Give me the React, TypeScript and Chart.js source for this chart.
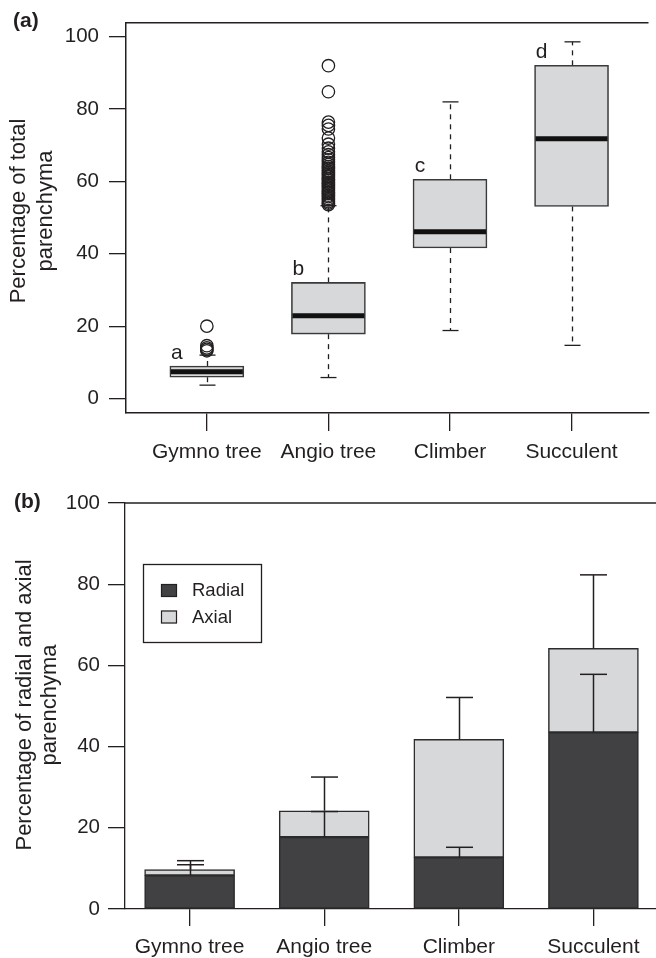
import React, { useEffect, useRef } from "react";
import { Chart, registerables } from "chart.js";

Chart.register(...registerables);

// ---------- shared ----------
const categories = ["Gymno tree", "Angio tree", "Climber", "Succulent"];
const positions = [1, 2, 3, 4];

// ---------- panel (a): boxplot ----------
const lowerWhisker = [3.7, 5.8, 18.8, 14.7];
const quartile1 = [5.9, 17.8, 41.6, 53.1];
const medians = [7.4, 22.9, 46.1, 71.8];
const quartile3 = [9.0, 32.1, 60.6, 92.1];
const upperWhisker = [12.0, 53.3, 82.0, 98.6];
const groupLetters = ["a", "b", "c", "d"];
const gymnoOutliers = [13.2, 13.6, 14.0, 14.6, 20.0];
const angioOutliers = [
  53.6, 54.0, 54.4, 54.9, 55.3, 55.8, 56.2, 56.7, 57.1, 57.6, 58.0, 58.5, 58.9,
  59.4, 59.8, 60.3, 60.7, 61.2, 61.6, 62.1, 62.5, 63.0, 63.6, 64.1, 64.7, 65.3,
  66.0, 66.6, 67.4, 68.2, 69.2, 70.3, 72.0, 74.5, 75.5, 76.4, 84.8, 92.0,
];
const climberOutliers: number[] = [];
const succulentOutliers: number[] = [];
const yTicksA = [0, 20, 40, 60, 80, 100];

// ---------- panel (b): stacked bars ----------
const radialMean = [8.3, 17.7, 12.7, 43.5];
const axialMean = [1.4, 6.5, 29.1, 20.7];
const radialError = [2.6, 6.3, 2.5, 14.3];
const totalError = [2.2, 8.3, 10.3, 18.1];
const seriesLabels = ["Radial", "Axial"];
const yTicksB = [0, 20, 40, 60, 80, 100];

// ---------- style ----------
const INK = "#231f20";
const LIGHT = "#d7d8da";
const DARK = "#414143";
const FONT = "'Liberation Sans', Arial, Helvetica, sans-serif";

Chart.defaults.font.family = FONT;
Chart.defaults.color = INK;

function line(ctx: CanvasRenderingContext2D, x1: number, y1: number, x2: number, y2: number) {
  ctx.beginPath();
  ctx.moveTo(x1, y1);
  ctx.lineTo(x2, y2);
  ctx.stroke();
}

function drawYTitle(ctx: CanvasRenderingContext2D, lines: string[], baselines: number[], cy: number) {
  ctx.save();
  ctx.fillStyle = INK;
  ctx.font = `22px ${FONT}`;
  ctx.textAlign = "center";
  ctx.textBaseline = "alphabetic";
  lines.forEach((t, i) => {
    ctx.save();
    ctx.translate(baselines[i], cy);
    ctx.rotate(-Math.PI / 2);
    ctx.fillText(t, 0, 0);
    ctx.restore();
  });
  ctx.restore();
}

const BOX_W = 74;
const CAP_A = 16;

const boxPlugin = {
  id: "boxExtras",
  beforeDatasetsDraw(chart: any) {
    const { ctx, scales } = chart;
    const x = scales.x;
    const y = scales.y;
    ctx.save();
    ctx.strokeStyle = INK;
    ctx.lineWidth = 1.3;
    positions.forEach((p, i) => {
      const cx = Math.round(x.getPixelForValue(p)) + 0.5;
      const yU = y.getPixelForValue(upperWhisker[i]);
      const yL = y.getPixelForValue(lowerWhisker[i]);
      ctx.setLineDash([5, 5]);
      line(ctx, cx, y.getPixelForValue(quartile3[i]), cx, yU);
      line(ctx, cx, y.getPixelForValue(quartile1[i]), cx, yL);
      ctx.setLineDash([]);
      line(ctx, cx - CAP_A / 2, yU, cx + CAP_A / 2, yU);
      line(ctx, cx - CAP_A / 2, yL, cx + CAP_A / 2, yL);
    });
    ctx.restore();
  },
  afterDatasetsDraw(chart: any) {
    const { ctx, scales } = chart;
    const x = scales.x;
    const y = scales.y;
    ctx.save();
    positions.forEach((p, i) => {
      const cx = x.getPixelForValue(p);
      const ym = y.getPixelForValue(medians[i]);
      ctx.strokeStyle = "#111";
      ctx.lineWidth = 5;
      line(ctx, cx - BOX_W / 2 + 1, ym, cx + BOX_W / 2 - 1, ym);
      ctx.fillStyle = INK;
      ctx.font = `21px ${FONT}`;
      ctx.textAlign = "center";
      ctx.textBaseline = "alphabetic";
      ctx.fillText(groupLetters[i], cx - BOX_W / 2 + 7, y.getPixelForValue(quartile3[i]) - 7);
    });
    ctx.restore();
  },
  afterDraw(chart: any) {
    const { ctx, chartArea } = chart;
    ctx.save();
    ctx.strokeStyle = INK;
    ctx.lineWidth = 1.5;
    line(ctx, chartArea.left, chartArea.top + 0.5, chartArea.right, chartArea.top + 0.5);
    ctx.fillStyle = INK;
    ctx.font = `bold 21px ${FONT}`;
    ctx.textAlign = "left";
    ctx.textBaseline = "middle";
    ctx.fillText("(a)", 13, 21);
    drawYTitle(ctx, ["Percentage of total", "parenchyma"], [25, 52], 211);
    ctx.restore();
  },
};

const CAP_B = 27;

const barPlugin = {
  id: "barExtras",
  afterDatasetsDraw(chart: any) {
    const { ctx, scales } = chart;
    const x = scales.x;
    const y = scales.y;
    ctx.save();
    ctx.strokeStyle = INK;
    ctx.lineWidth = 1.5;
    positions.forEach((p, i) => {
      const cx = Math.round(x.getPixelForValue(p)) + 0.5;
      const r0 = y.getPixelForValue(radialMean[i]);
      const r1 = y.getPixelForValue(radialMean[i] + radialError[i]);
      const total = radialMean[i] + axialMean[i];
      const t0 = y.getPixelForValue(total);
      const t1 = y.getPixelForValue(total + totalError[i]);
      line(ctx, cx, r0, cx, r1);
      line(ctx, cx - CAP_B / 2, r1, cx + CAP_B / 2, r1);
      line(ctx, cx, t0, cx, t1);
      line(ctx, cx - CAP_B / 2, t1, cx + CAP_B / 2, t1);
    });
    ctx.restore();
  },
  afterDraw(chart: any) {
    const { ctx, chartArea } = chart;
    ctx.save();
    ctx.strokeStyle = INK;
    ctx.lineWidth = 1.3;
    line(ctx, chartArea.left, chartArea.top, chartArea.right, chartArea.top);
    // legend
    const lx = chartArea.left + 18;
    const ly = chartArea.top + 61;
    ctx.lineWidth = 1.3;
    ctx.strokeRect(lx + 0.5, ly + 0.5, 118, 78);
    ctx.font = `18.5px ${FONT}`;
    ctx.textAlign = "left";
    ctx.textBaseline = "middle";
    chart.data.datasets.forEach((ds: any, i: number) => {
      const sy = ly + 20 + i * 26.5;
      ctx.fillStyle = ds.backgroundColor;
      ctx.fillRect(lx + 18, sy, 16, 13);
      ctx.lineWidth = 1.2;
      ctx.strokeRect(lx + 18.5, sy + 0.5, 15, 12);
      ctx.fillStyle = INK;
      ctx.fillText(ds.label, lx + 49, sy + 7);
    });
    ctx.font = `bold 21px ${FONT}`;
    ctx.fillText("(b)", 14, 32);
    drawYTitle(ctx, ["Percentage of radial and axial", "parenchyma"], [31, 56], 235);
    ctx.restore();
  },
};

function useChart(ref: React.RefObject<HTMLCanvasElement | null>, make: (c: HTMLCanvasElement) => Chart) {
  useEffect(() => {
    if (!ref.current) return;
    const chart = make(ref.current);
    return () => chart.destroy();
  }, []);
}

const tickFontY = { size: 20.5, family: FONT };
const tickFontX = { size: 21, family: FONT };

function makeBoxChart(canvas: HTMLCanvasElement) {
  const outlierPoints = [
    ...gymnoOutliers.map((v) => ({ x: positions[0], y: v })),
    ...angioOutliers.map((v) => ({ x: positions[1], y: v })),
    ...climberOutliers.map((v) => ({ x: positions[2], y: v })),
    ...succulentOutliers.map((v) => ({ x: positions[3], y: v })),
  ];
  return new Chart(canvas, {
    type: "bar",
    data: {
      datasets: [
        {
          type: "bar",
          label: "Box",
          data: positions.map((p, i) => ({ x: p, y: [quartile1[i], quartile3[i]] })) as any,
          backgroundColor: LIGHT,
          borderColor: "#3a3a3a",
          borderWidth: 1.6,
          borderSkipped: false,
          barThickness: BOX_W,
        } as any,
        {
          type: "scatter",
          label: "Outliers",
          data: outlierPoints,
          pointRadius: 6.2,
          pointBorderWidth: 1.3,
          pointBorderColor: INK,
          pointBackgroundColor: "rgba(255,255,255,0)",
          showLine: false,
        } as any,
      ],
    },
    options: {
      responsive: false,
      animation: false,
      layout: { padding: { top: 8, left: 0, right: 0, bottom: 0 } },
      plugins: { legend: { display: false }, tooltip: { enabled: false } },
      scales: {
        x: {
          type: "linear",
          offset: false,
          min: 0.335,
          max: 4.633,
          afterBuildTicks: (s: any) => {
            s.ticks = positions.map((v) => ({ value: v }));
          },
          afterFit: (s: any) => {
            s.height = 57;
          },
          ticks: {
            callback: (v: any) => categories[positions.indexOf(v)] ?? "",
            font: tickFontX,
            color: INK,
            padding: 9,
            maxRotation: 0,
            autoSkip: false,
          },
          grid: { offset: false, drawOnChartArea: false, color: INK, tickLength: 18, lineWidth: 1.3 },
          border: { color: INK, width: 1.5 },
        },
        y: {
          type: "linear",
          min: -4,
          max: 104,
          afterBuildTicks: (s: any) => {
            s.ticks = yTicksA.map((v) => ({ value: v }));
          },
          afterFit: (s: any) => {
            s.width = 126;
          },
          ticks: { font: tickFontY, color: INK, padding: 10 },
          grid: { drawOnChartArea: false, color: INK, tickLength: 17, lineWidth: 1.3 },
          border: { color: INK, width: 1.5 },
        },
      },
    } as any,
    plugins: [boxPlugin],
  });
}

function makeBarChart(canvas: HTMLCanvasElement) {
  const seriesValues = [radialMean, axialMean];
  const seriesColors = [DARK, LIGHT];
  return new Chart(canvas, {
    type: "bar",
    data: {
      datasets: seriesLabels.map((label, k) => ({
        label,
        data: positions.map((p, i) => ({ x: p, y: seriesValues[k][i] })),
        backgroundColor: seriesColors[k],
        borderColor: "#2b2b2b",
        borderWidth: 1.5,
        borderSkipped: false,
        barThickness: 90,
      })) as any,
    },
    options: {
      responsive: false,
      animation: false,
      layout: { padding: { top: 33, left: 0, right: 0, bottom: 0 } },
      plugins: { legend: { display: false }, tooltip: { enabled: false } },
      scales: {
        x: {
          type: "linear",
          offset: false,
          stacked: true,
          min: 0.52,
          max: 4.465,
          afterBuildTicks: (s: any) => {
            s.ticks = positions.map((v) => ({ value: v }));
          },
          afterFit: (s: any) => {
            s.height = 49;
          },
          ticks: {
            callback: (v: any) => categories[positions.indexOf(v)] ?? "",
            font: tickFontX,
            color: INK,
            padding: 9,
            maxRotation: 0,
            autoSkip: false,
          },
          grid: { offset: false, drawOnChartArea: false, color: INK, tickLength: 17, lineWidth: 1.3 },
          border: { color: INK, width: 1.3 },
        },
        y: {
          type: "linear",
          stacked: true,
          min: 0,
          max: 100,
          afterBuildTicks: (s: any) => {
            s.ticks = yTicksB.map((v) => ({ value: v }));
          },
          afterFit: (s: any) => {
            s.width = 125;
          },
          ticks: { font: tickFontY, color: INK, padding: 8 },
          grid: { drawOnChartArea: false, color: INK, tickLength: 17, lineWidth: 1.3 },
          border: { color: INK, width: 1.3 },
        },
      },
    } as any,
    plugins: [barPlugin],
  });
}

export default function App() {
  const refA = useRef<HTMLCanvasElement>(null);
  const refB = useRef<HTMLCanvasElement>(null);
  useChart(refA, makeBoxChart);
  useChart(refB, makeBarChart);
  return (
    <div style={{ position: "absolute", left: 0, top: 0, width: 656, height: 958, background: "#fff" }}>
      <canvas ref={refA} width={656} height={470} style={{ display: "block", width: 656, height: 470 }} />
      <canvas ref={refB} width={656} height={488} style={{ display: "block", width: 656, height: 488 }} />
    </div>
  );
}
